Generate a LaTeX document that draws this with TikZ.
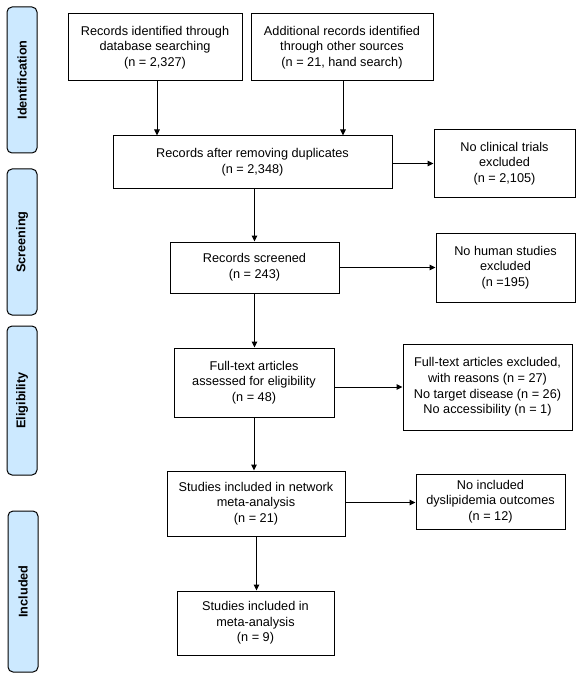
\documentclass[tikz,border=0pt]{standalone}
\usepackage{fontspec}
\setmainfont{Liberation Sans}
\usetikzlibrary{arrows.meta,calc}
\definecolor{sidefill}{RGB}{204,233,255}
\begin{document}
\begin{tikzpicture}[x=1pt,y=-1pt,
  box/.style={draw=black,line width=1pt,fill=white,align=center,inner sep=2pt,
    font=\fontsize{12.7}{15.6}\selectfont},
  side/.style={draw=black,line width=1pt,fill=sidefill,rounded corners=5pt,rotate=90,
    minimum height=30pt,inner sep=0pt,font=\fontsize{12.7}{15.6}\selectfont\bfseries},
  arr/.style={line width=1pt,-{Triangle[length=6pt,width=5.5pt]}}]
\useasboundingbox (0,0) rectangle (579,679);
% side labels
\node[side,minimum width=146pt] (sid) at (22,80) {Identification};
\node[side,minimum width=146pt] (sscr) at (22,242) {Screening};
\node[side,minimum width=149pt] (selig) at (22,400.5) {Eligibility};
\node[side,minimum width=161pt] (sinc) at (23,591.5) {Included};
% boxes
\node[box,minimum width=174pt,minimum height=67pt] (db) at (155,47.5)
  {Records identified through\\database searching\\(n = 2,327)};
\node[box,minimum width=182pt,minimum height=67pt] (other) at (342,47.5)
  {Additional records identified\\through other sources\\(n = 21, hand search)};
\node[box,minimum width=279pt,minimum height=52pt] (dup) at (252.5,162)
  {Records after removing duplicates\\(n = 2,348)};
\node[box,minimum width=141pt,minimum height=67pt] (noclin) at (504.5,163.5)
  {No clinical trials\\excluded\\(n = 2,105)};
\node[box,minimum width=169pt,minimum height=51pt] (scr) at (254.5,267.5)
  {Records screened\\(n = 243)};
\node[box,minimum width=139pt,minimum height=69pt] (nohum) at (505.5,267.5)
  {No human studies\\excluded\\(n =195)};
\node[box,minimum width=160pt,minimum height=69pt] (ft) at (254,382.5)
  {Full-text articles\\assessed for eligibility\\(n = 48)};
\node[box,minimum width=169pt,minimum height=86pt] (ftx) at (487.5,387)
  {Full-text articles excluded,\\with reasons (n = 27)\\No target disease (n = 26)\\No accessibility (n = 1)};
\node[box,minimum width=178pt,minimum height=65pt] (sn) at (256,503.5)
  {Studies included in network\\meta-analysis\\(n = 21)};
\node[box,minimum width=149pt,minimum height=55pt] (nd) at (490.5,501.5)
  {No included\\dyslipidemia outcomes\\(n = 12)};
\node[box,minimum width=157pt,minimum height=64pt] (sm) at (255.5,623)
  {Studies included in\\meta-analysis\\(n = 9)};
% connectors
\draw[arr] ([xshift=2pt]db.south) -- ([xshift=2pt]db.south |- dup.north);
\draw[arr] ([xshift=1pt]other.south) -- ([xshift=1pt]other.south |- dup.north);
\draw[arr] (noclin.west -| dup.east) -- (noclin.west);
\draw[arr] (scr.north |- dup.south) -- (scr.north);
\draw[arr] (scr.east) -- (nohum.west);
\draw[arr] (scr.south) -- (scr.south |- ft.north);
\draw[arr] (ftx.west -| ft.east) -- (ftx.west);
\draw[arr] (ft.south) -- (ft.south |- sn.north);
\draw[arr] ([yshift=1pt]sn.east) -- ([yshift=1pt]sn.east -| nd.west);
\draw[arr] ([xshift=1pt]sm.north |- sn.south) -- ([xshift=1pt]sm.north);
\end{tikzpicture}
\end{document}
